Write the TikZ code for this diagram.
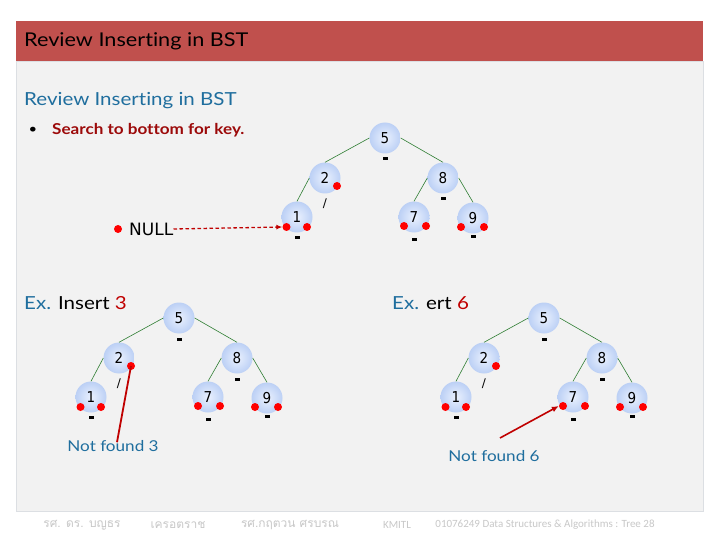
\documentclass[tikz,border=0pt]{standalone}
\usepackage{fontspec}
\setmainfont{Lato}[FakeStretch=1.14,Ligatures=NoCommon]
\newfontfamily\numfont{DejaVu Sans}
\newfontfamily\digitfont{DejaVu Sans}[FakeStretch=0.9]
\newfontfamily\thaifont[Script=Thai]{Loma}
\newfontfamily\footfont{Carlito}
\usetikzlibrary{calc,arrows.meta}
\definecolor{hdr}{HTML}{C0504D}
\definecolor{panel}{HTML}{F2F2F2}
\definecolor{panelline}{HTML}{DCDFE3}
\definecolor{txtblue}{HTML}{1F6E9E}
\definecolor{txtred}{HTML}{9C0A0A}
\definecolor{numred}{HTML}{C00000}
\definecolor{edgecol}{HTML}{2E7D32}
\definecolor{nodein}{HTML}{EAF1FE}
\definecolor{nodeout}{HTML}{BCD0F5}
\definecolor{footcol}{HTML}{C8C8C8}
\tikzset{
  bst/.style={circle, minimum size=31pt, inner sep=0pt, inner color=nodein, outer color=nodeout, font=\digitfont\fontsize{15}{15}\selectfont},
  tedge/.style={draw=edgecol, line width=0.6pt},
  rdot/.style={circle, fill=red, inner sep=0pt, minimum size=8pt},
  nil/.style={fill=black, minimum width=5pt, minimum height=3pt, inner sep=0pt},
  slash/.style={font=\numfont\fontsize{12}{12}\selectfont, inner sep=0pt},
  foottxt/.style={text=footcol, font=\footfont\fontsize{11}{11}\selectfont, inner sep=0pt},
  thaitxt/.style={text=footcol, font=\thaifont\fontsize{12}{12}\selectfont, inner sep=0pt},
  redline/.style={draw=numred, line width=1.8pt},
}
\newcommand\drawbst[1]{%
  \node[bst] (#1n5) at (0,0) {5};
  \node[bst] (#1n2) at (-60,40) {2};
  \node[bst] (#1n8) at (58,40) {8};
  \node[bst] (#1n1) at (-88,79) {1};
  \node[bst] (#1n7) at (29,79) {7};
  \node[bst] (#1n9) at (88,80) {9};
  \draw[tedge] (#1n5.west) -- (#1n2.north);
  \draw[tedge] (#1n5.east) -- (#1n8.north);
  \draw[tedge] (#1n2.west) -- (#1n1.north);
  \draw[tedge] (#1n8.west) -- (#1n7.north);
  \draw[tedge] (#1n8.east) -- (#1n9.north);
  \node[rdot] (#1d2) at ($(#1n2)+(12,8)$) {};
  \node[rdot] (#1d1l) at ($(#1n1)+(-10.5,10)$) {};
  \node[rdot] (#1d1r) at ($(#1n1)+(10,10)$) {};
  \node[rdot] (#1d7l) at ($(#1n7)+(-10,9)$) {};
  \node[rdot] (#1d7r) at ($(#1n7)+(12,9)$) {};
  \node[rdot] (#1d9l) at ($(#1n9)+(-12,9)$) {};
  \node[rdot] (#1d9r) at ($(#1n9)+(11,9)$) {};
  \node[nil] (#1m5) at ($(#1n5)+(0,21)$) {};
  \node[nil] (#1m8) at ($(#1n8)+(0,21)$) {};
  \node[nil] (#1m1) at ($(#1n1)+(0,20)$) {};
  \node[nil] (#1m7) at ($(#1n7)+(0,22)$) {};
  \node[nil] (#1m9) at ($(#1n9)+(0,18)$) {};
  \node[slash] (#1s2) at ($(#1n2)+(0,26)$) {/};
}
\begin{document}
\begin{tikzpicture}[x=1pt,y=-1pt]
\useasboundingbox (0,0) rectangle (720,540);
\fill[white] (0,0) rectangle (720,540);
\fill[panel, draw=panelline, line width=0.6pt] (16,61) rectangle (703,511);
\fill[hdr] (16,21) rectangle (703,61);

\node[anchor=west, inner sep=0pt, font=\fontsize{19}{19}\selectfont] (title) at (24,41) {Review Inserting in BST};
\node[anchor=west, inner sep=0pt, text=txtblue, font=\fontsize{18}{18}\selectfont] (sub) at (24,101) {Review Inserting in BST};
\node[inner sep=0pt, font=\fontsize{13}{13}\selectfont] (bul) at (33,130) {•};
\node[anchor=west, inner sep=0pt, text=txtred, font=\bfseries\fontsize{15}{15}\selectfont] (search) at (52,130) {Search to bottom for key.};

% tree 1
\begin{scope}[shift={(385,138)}]
\drawbst{a}
\end{scope}
\node[rdot] (nulldot) at (118,229) {};
\node[anchor=west, inner sep=0pt, font=\numfont\fontsize{17}{17}\selectfont] (null) at (129,229) {NULL};
\draw[numred, dashed, dash pattern=on 3.5pt off 2.5pt, line width=1.3pt, -{Latex[length=6pt,width=5pt]}] (null.east) -- (ad1l.west);

% tree 2
\node[anchor=west, inner sep=0pt, font=\fontsize{18}{18}\selectfont] (ex3) at (24,303) {\textcolor{txtblue}{Ex.} Insert \textcolor{numred}{3}};
\begin{scope}[shift={(179,318)}]
\drawbst{b}
\end{scope}
\node[text=txtblue, inner sep=0pt, font=\fontsize{15}{15}\selectfont] (nf3) at (113,446) {Not found 3};
\draw[redline] (bd2.center) -- ([xshift=4pt,yshift=-2pt]nf3.north);

% tree 3
\node[anchor=west, inner sep=0pt, font=\fontsize{18}{18}\selectfont] (ex6) at (392,303) {\textcolor{txtblue}{Ex.} ert \textcolor{numred}{6}};
\begin{scope}[shift={(544,318)}]
\drawbst{c}
\end{scope}
\node[text=txtblue, inner sep=0pt, font=\fontsize{15}{15}\selectfont] (nf6) at (494,456) {Not found 6};
\coordinate (c6) at (500,438);
\draw[numred, line width=1.6pt, -{Latex[length=7pt,width=6pt]}] (c6) -- (cd7l.west);

% footer
\node[thaitxt] (f1) at (82,525) {รศ. ดร. บญธร};
\node[thaitxt] (f2) at (178,525) {เครอตราช};
\node[thaitxt] (f3) at (290,525) {รศ.กฤตวน  ศรบรณ};
\node[foottxt] (f4) at (397,525) {KMITL};
\node[foottxt] (f5) at (545,525) {01076249 Data Structures \& Algorithms : Tree 28};
\end{tikzpicture}
\end{document}
